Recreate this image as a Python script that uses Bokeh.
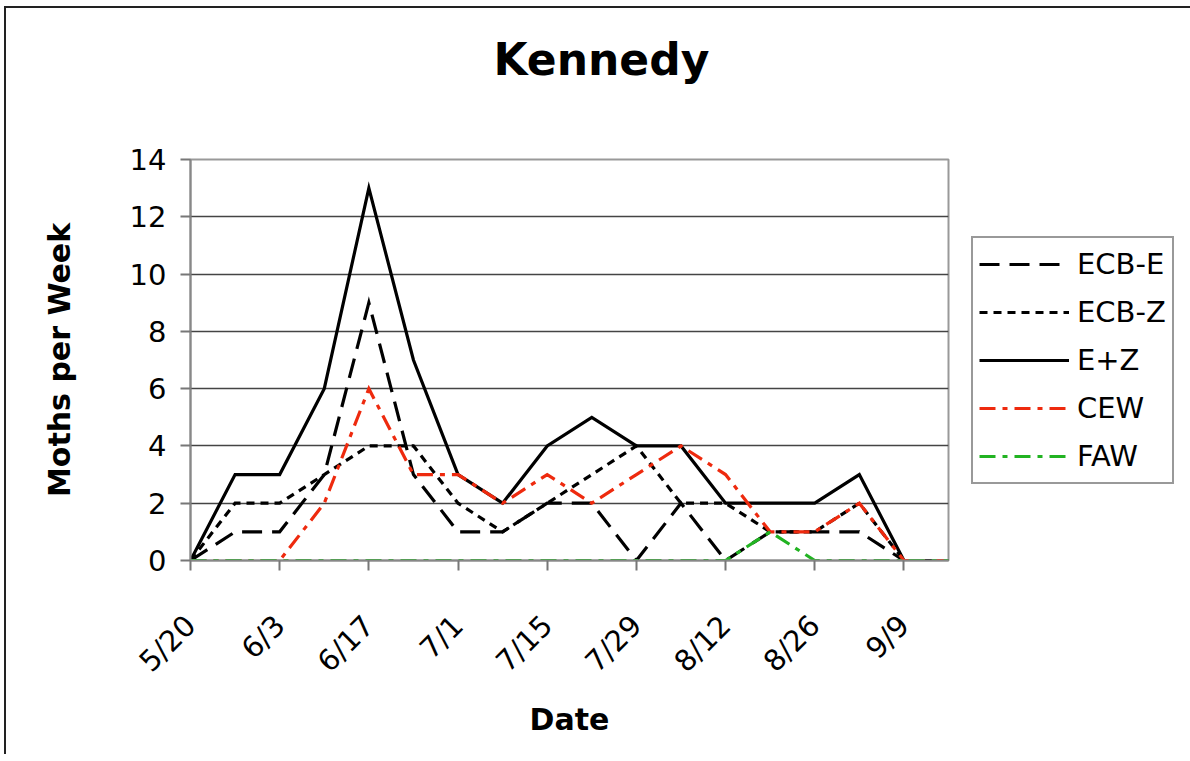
import math
from bokeh.plotting import figure
from bokeh.models import Range1d, FixedTicker, Legend, LegendItem, Title
from bokeh.embed import file_html
from bokeh.resources import INLINE

dates = ["5/20", "5/27", "6/3", "6/10", "6/17", "6/24", "7/1", "7/8", "7/15",
         "7/22", "7/29", "8/5", "8/12", "8/19", "8/26", "9/2", "9/9", "9/16"]
ecb_e = [0, 1, 1, 3, 9, 3, 1, 1, 2, 2, 0, 2, 0, 1, 1, 1, 0, 0]
ecb_z = [0, 2, 2, 3, 4, 4, 2, 1, 2, 3, 4, 2, 2, 1, 1, 2, 0, 0]
e_plus_z = [0, 3, 3, 6, 13, 7, 3, 2, 4, 5, 4, 4, 2, 2, 2, 3, 0, 0]
cew = [0, 0, 0, 2, 6, 3, 3, 2, 3, 2, 3, 4, 3, 1, 1, 2, 0, 0]
faw = [0, 0, 0, 0, 0, 0, 0, 0, 0, 0, 0, 0, 0, 1, 0, 0, 0, 0]

series_names = ["ECB-E", "ECB-Z", "E+Z", "CEW", "FAW"]
series_values = [ecb_e, ecb_z, e_plus_z, cew, faw]
series_colors = ["#000000", "#000000", "#000000", "#EE2A0E", "#22B322"]
series_dashes = ["20 10", "8 6", "solid", "16 7 5 7", "16 7 5 7"]

x_idx = list(range(len(dates)))

FONT = "DejaVu Sans"

p = figure(
    frame_width=758, frame_height=401,
    min_border_left=184, min_border_right=235,
    min_border_top=151, min_border_bottom=194,
    x_range=Range1d(0, len(dates) - 1), y_range=Range1d(0, 14),
    output_backend="svg", toolbar_location=None,
    title="Kennedy",
)
p.styles = {"border-left": "2px solid #222222", "border-top": "2px solid #222222",
            "margin-left": "4px", "margin-top": "6px"}
p.background_fill_color = "white"
p.border_fill_color = "white"
p.outline_line_color = "#999999"
p.outline_line_width = 2

p.title.text_font = FONT
p.title.text_font_size = "44px"
p.title.text_font_style = "bold"
p.title.text_color = "black"
p.title.align = "left"
p.title.offset = 303
p.title.standoff = 47

# empty spacer between the title and the plot area
spacer = Title(text=" ", text_font_size="10px", standoff=38)
p.add_layout(spacer, "above")

# axes
p.xaxis.ticker = FixedTicker(ticks=x_idx[::2])
p.xaxis.major_label_overrides = {i: dates[i] for i in x_idx}
p.xaxis.major_label_orientation = math.pi / 4
p.yaxis.ticker = FixedTicker(ticks=[0, 2, 4, 6, 8, 10, 12, 14])
for ax in (p.xaxis[0], p.yaxis[0]):
    ax.major_label_text_font = FONT
    ax.major_label_text_font_size = "29px"
    ax.major_label_text_color = "black"
    ax.axis_label_text_font = FONT
    ax.axis_label_text_font_size = "30px"
    ax.axis_label_text_font_style = "bold"
    ax.axis_label_text_color = "black"
    ax.major_tick_in = 0
    ax.major_tick_out = 10
    ax.minor_tick_line_color = None
    ax.major_tick_line_color = "#777777"
    ax.major_tick_line_width = 2
    ax.axis_line_color = "#888888"
    ax.axis_line_width = 2
p.xaxis.axis_label = "Date"
p.yaxis.axis_label = "Moths per Week"
p.xaxis.major_label_standoff = 50
p.yaxis.major_label_standoff = 14
p.xaxis.axis_label_standoff = 8
p.yaxis.axis_label_standoff = 50

p.xgrid.grid_line_color = None
p.ygrid.grid_line_color = "#444444"
p.ygrid.grid_line_width = 1.5

items = []
for name, vals, col, dash in zip(series_names, series_values, series_colors, series_dashes):
    r = p.line(x_idx, vals, line_color=col, line_width=3.2, line_dash=dash,
               line_join="miter")
    items.append(LegendItem(label=name, renderers=[r]))

legend = Legend(items=items, location=(23, 76))
legend.label_text_font = FONT
legend.label_text_font_size = "29px"
legend.label_text_color = "black"
legend.glyph_width = 90
legend.glyph_height = 40
legend.label_height = 40
legend.label_standoff = 8
legend.spacing = 8
legend.padding = 6
legend.margin = 0
legend.border_line_color = "#333333"
legend.border_line_width = 2
legend.background_fill_alpha = 1
p.add_layout(legend, "right")

open("out.html", "w").write(file_html(p, INLINE))
